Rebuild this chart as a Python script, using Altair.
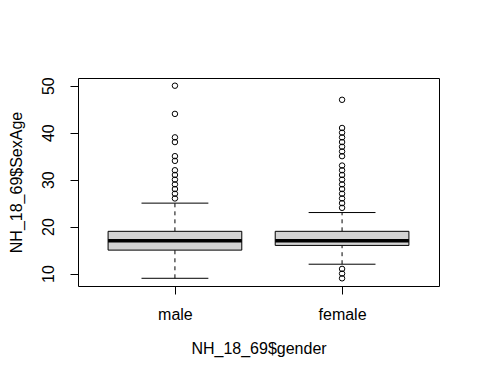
import altair as alt
import pandas as pd

groups = ["male", "female"]
positions = [1, 2]
q1 = [15, 16]
median = [17, 17]
q3 = [19, 19]
whisker_lo = [9, 12]
whisker_hi = [25, 23]
male_outliers = [26, 27, 28, 29, 30, 31, 32, 34, 35, 38, 39, 44, 50]
female_outliers = [9, 10, 11, 24, 25, 26, 27, 28, 29, 30, 31, 32, 33,
                   35, 36, 37, 38, 39, 40, 41, 47]
y_ticks = [10, 20, 30, 40, 50]

box_half = 0.4
staple_half = 0.2

stats = pd.DataFrame({
    "group": groups, "pos": positions, "q1": q1, "median": median, "q3": q3,
    "lo": whisker_lo, "hi": whisker_hi,
})
stats["x1"] = stats["pos"] - box_half
stats["x2"] = stats["pos"] + box_half
stats["s1"] = stats["pos"] - staple_half
stats["s2"] = stats["pos"] + staple_half

out_rows = [{"pos": 1, "v": v} for v in male_outliers] + \
           [{"pos": 2, "v": v} for v in female_outliers]
outs = pd.DataFrame(out_rows)

FONT = "Liberation Sans"
xs = alt.Scale(domain=[0.42, 2.58], nice=False, zero=False)
ys = alt.Scale(domain=[7.36, 51.64], nice=False, zero=False)

x_axis = alt.Axis(
    values=positions, title="NH_18_69$gender", grid=False, domain=False,
    tickSize=8, tickColor="black", labelColor="black", labelFontSize=16,
    labelFont=FONT, labelPadding=12,
    labelExpr="datum.value == 1 ? 'male' : 'female'",
    titleFont=FONT, titleFontSize=16, titleFontWeight="normal",
    titleColor="black", titlePadding=18,
)
y_axis = alt.Axis(
    values=y_ticks, title="NH_18_69$SexAge", grid=False, domain=False,
    tickSize=8, tickColor="black", labelColor="black", labelFontSize=16,
    labelFont=FONT, labelAngle=270, labelPadding=14,
    titleFont=FONT, titleFontSize=16, titleFontWeight="normal",
    titleColor="black", titlePadding=16,
)

base = alt.Chart(stats)

axes_layer = alt.Chart(stats).mark_point(opacity=0).encode(
    x=alt.X("pos:Q", scale=xs, axis=x_axis),
    y=alt.Y("median:Q", scale=ys, axis=y_axis),
)

whisk_up = base.mark_rule(color="black", strokeWidth=1, strokeDash=[4, 4]).encode(
    x=alt.X("pos:Q", scale=xs), y=alt.Y("q3:Q", scale=ys), y2="hi:Q")
whisk_dn = base.mark_rule(color="black", strokeWidth=1, strokeDash=[4, 4]).encode(
    x=alt.X("pos:Q", scale=xs), y=alt.Y("lo:Q", scale=ys), y2="q1:Q")
staple_hi = base.mark_rule(color="black", strokeWidth=1).encode(
    x=alt.X("s1:Q", scale=xs), x2="s2:Q", y=alt.Y("hi:Q", scale=ys))
staple_lo = base.mark_rule(color="black", strokeWidth=1).encode(
    x=alt.X("s1:Q", scale=xs), x2="s2:Q", y=alt.Y("lo:Q", scale=ys))
boxes = base.mark_rect(fill="#D3D3D3", stroke="black", strokeWidth=1).encode(
    x=alt.X("x1:Q", scale=xs), x2="x2:Q",
    y=alt.Y("q1:Q", scale=ys), y2="q3:Q")
med = base.mark_rule(color="black", strokeWidth=3.5).encode(
    x=alt.X("x1:Q", scale=xs), x2="x2:Q", y=alt.Y("median:Q", scale=ys))
pts = alt.Chart(outs).mark_point(shape="circle", filled=False, color="black",
                                 size=30, strokeWidth=1, opacity=1).encode(
    x=alt.X("pos:Q", scale=xs), y=alt.Y("v:Q", scale=ys))

chart = alt.layer(axes_layer, whisk_up, whisk_dn, staple_hi, staple_lo,
                  boxes, med, pts).properties(
    width=361, height=208,
    background="white",
    autosize=alt.AutoSizeParams(type="none"),
    padding={"left": 70, "top": 70, "right": 30, "bottom": 85},
).configure_view(stroke="black", strokeWidth=1)

chart.save("out.html", embed_options={"renderer": "svg", "actions": False})
